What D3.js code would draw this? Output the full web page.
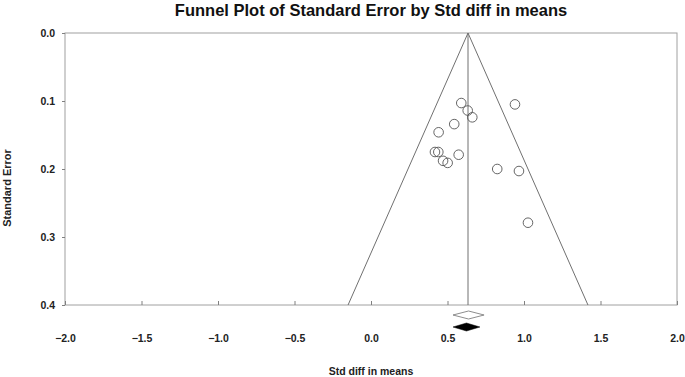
<!DOCTYPE html>
<html>
<head>
<meta charset="utf-8">
<script src="https://cdn.jsdelivr.net/npm/d3@7"></script>
<style>
  body { margin: 0; background: #fff; }
  text { font-family: "Liberation Sans", Arial, sans-serif; font-weight: bold; }
</style>
</head>
<body>
<script>
// study effects (std diff in means) and their standard errors
var effects = [0.590, 0.632, 0.662, 0.544, 0.442, 0.941, 0.418, 0.440, 0.573, 0.471, 0.501, 0.825, 0.967, 1.026];
var stdErrors = [0.103, 0.114, 0.124, 0.134, 0.146, 0.105, 0.175, 0.175, 0.179, 0.188, 0.191, 0.200, 0.203, 0.279];
var xTicks = [-2.0, -1.5, -1.0, -0.5, 0.0, 0.5, 1.0, 1.5, 2.0];
var yTicks = [0.0, 0.1, 0.2, 0.3, 0.4];
var pooled = 0.634;
var observedCI = [0.536, 0.739];
var imputedCI = [0.536, 0.712];

var margin = {top: 33, right: 8, bottom: 72, left: 65},
    width = 685 - margin.left - margin.right,
    height = 377 - margin.top - margin.bottom;

var svg = d3.select("body").append("svg")
    .attr("width", 685)
    .attr("height", 377);

var main = svg.append("g")
    .attr("transform", "translate(" + margin.left + "," + margin.top + ")");

var x = d3.scaleLinear().domain([-2, 2]).range([0, width]);
var y = d3.scaleLinear().domain([0, 0.4]).range([0, height]);

// frame
main.append("rect")
    .attr("width", width)
    .attr("height", height)
    .attr("fill", "none")
    .attr("stroke", "#a0a0a0")
    .attr("stroke-width", 1);

// x axis ticks (inside, pointing up) and labels
var xAxis = d3.axisBottom(x)
    .tickValues(xTicks)
    .tickSizeInner(-4)
    .tickSizeOuter(0)
    .tickPadding(30)
    .tickFormat(d3.format(".1f"));

var gx = main.append("g")
    .attr("transform", "translate(0," + height + ")")
    .call(xAxis);
gx.select(".domain").remove();
gx.selectAll(".tick line").attr("stroke", "#808080");
gx.selectAll(".tick text").attr("font-size", 10.5).attr("fill", "#222").attr("font-family", null);

// y axis
var yAxis = d3.axisLeft(y)
    .tickValues(yTicks)
    .tickSizeInner(3)
    .tickSizeOuter(0)
    .tickPadding(7)
    .tickFormat(d3.format(".1f"));

var gy = main.append("g").call(yAxis);
gy.select(".domain").remove();
gy.selectAll(".tick line").attr("stroke", "#808080");
gy.selectAll(".tick text").attr("font-size", 10.5).attr("fill", "#222").attr("font-family", null);

// funnel
var seMax = 0.4;
main.append("path")
    .attr("d", d3.line()([
        [x(pooled - 1.96 * seMax), y(seMax)],
        [x(pooled), y(0)],
        [x(pooled + 1.96 * seMax), y(seMax)]
    ]))
    .attr("fill", "none")
    .attr("stroke", "#707070")
    .attr("stroke-width", 1);

main.append("line")
    .attr("x1", x(pooled)).attr("x2", x(pooled))
    .attr("y1", y(0)).attr("y2", y(seMax))
    .attr("stroke", "#707070")
    .attr("stroke-width", 1);

// studies
main.selectAll(".study")
    .data(effects)
    .enter().append("circle")
    .attr("class", "study")
    .attr("cx", function(d) { return x(d); })
    .attr("cy", function(d, i) { return y(stdErrors[i]); })
    .attr("r", 4.8)
    .attr("fill", "none")
    .attr("stroke", "#555")
    .attr("stroke-width", 0.9);

// summary diamonds
function diamond(ci, cy) {
    var mid = (ci[0] + ci[1]) / 2;
    return d3.line()([
        [x(ci[0]), cy], [x(mid), cy - 4], [x(ci[1]), cy], [x(mid), cy + 4]
    ]) + "Z";
}

main.append("path")
    .attr("d", diamond(observedCI, height + 10))
    .attr("fill", "#fff")
    .attr("stroke", "#808080")
    .attr("stroke-width", 0.9);

main.append("path")
    .attr("d", diamond(imputedCI, height + 22))
    .attr("fill", "#000")
    .attr("stroke", "#000")
    .attr("stroke-width", 0.5);

// titles
svg.append("text")
    .attr("x", margin.left + width / 2)
    .attr("y", 16)
    .attr("text-anchor", "middle")
    .attr("font-size", 16.5)
    .attr("fill", "#111")
    .text("Funnel Plot of Standard Error by Std diff in means");

svg.append("text")
    .attr("x", margin.left + width / 2)
    .attr("y", 375)
    .attr("text-anchor", "middle")
    .attr("font-size", 10.5)
    .attr("fill", "#222")
    .text("Std diff in means");

svg.append("text")
    .attr("transform", "translate(11,188)rotate(-90)")
    .attr("text-anchor", "middle")
    .attr("font-size", 11)
    .attr("fill", "#222")
    .text("Standard Error");
</script>
</body>
</html>
